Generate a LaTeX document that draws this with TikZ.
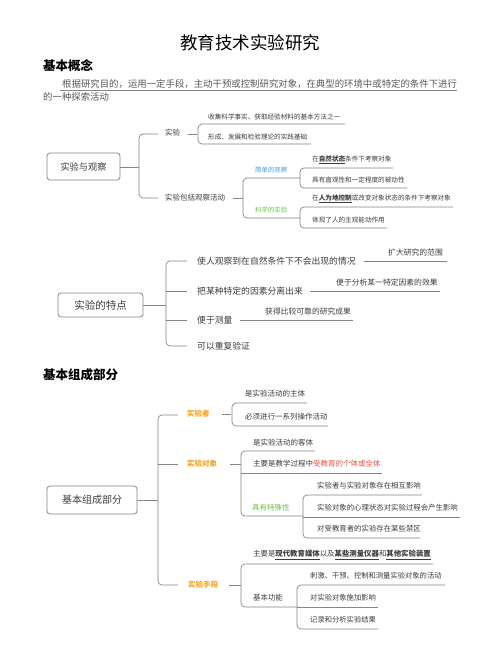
\documentclass[tikz,border=0pt]{standalone}
\usepackage{fontspec}
\setmainfont{Noto Sans CJK SC}
\definecolor{tc}{HTML}{3C3C3C}
\definecolor{lc}{HTML}{858585}
\definecolor{orn}{HTML}{F5A623}
\definecolor{blu}{HTML}{3D9BE9}
\definecolor{grn}{HTML}{6CC04A}
\definecolor{rd}{HTML}{E8503F}
\tikzset{
  txt/.style={anchor=west, inner sep=0pt, text=tc, font=\fontsize{#1}{#1}\selectfont},
  txt/.default=7.5,
  conn/.style={draw=lc, line width=0.7pt, rounded corners=4pt},
  rootbox/.style={draw=lc, line width=0.8pt, rounded corners=3pt, inner sep=0pt, text=tc}
}
\begin{document}
\begin{tikzpicture}[x=1pt,y=-1pt]
\useasboundingbox[fill=white] (0,0) rectangle (500,667);
% title and headings
\node[inner sep=0pt, text=black, font=\fontsize{17.5}{17.5}\selectfont] (title) at (250,43) {教育技术实验研究};
\node[txt=12.5, text=black, font=\fontsize{12.5}{12.5}\selectfont\bfseries] (h1) at (43,66) {基本概念};
\node[txt=9.4, text=tc!85] (p1) at (62,84) {根据研究目的，运用一定手段，主动干预或控制研究对象，在典型的环境中或特定的条件下进行};
\node[txt=9.4, text=tc!85] (p2) at (43,97) {的一种探索活动};
\coordinate (u1) at (60,90);
\draw[lc, line width=0.6pt] (u1) -- (u1 -| p1.east);

% ===== Section 1 =====
\node[rootbox, minimum width=73pt, minimum height=27pt, font=\fontsize{9.2}{9.2}\selectfont] (r1) at (83.5,166.5) {实验与观察};
\coordinate (b1) at (139,167);
\draw[conn] (r1.east |- b1) -- (b1);
\draw[conn] (158,134) -- (139,134) -- (139,198) -- (158,198);
\node[txt] (sy) at (165,133) {实验};
\draw[conn] (188,134) -- (197,134);
\draw[conn] (345,124) -- (198,124) -- (198,144) -- (311,144);
\node[txt=6.6] (sy1) at (208,117) {收集科学事实、获取经验材料的基本方法之一};
\node[txt=6.6] (sy2) at (208,137) {形成、发展和检验理论的实践基础};
\node[txt] (sg) at (165,198) {实验包括观察活动};
\draw[conn] (233,198) -- (243,198);
\draw[conn] (300,178) -- (243,178) -- (243,218) -- (300,218);
\node[txt=6.4, text=blu] (jd) at (255,170) {简单的观察};
\node[txt=6.4, text=grn] (kx) at (255,210) {科学的实验};
\draw[conn] (393,168) -- (300,168) -- (300,188) -- (407,188);
\node[txt=6.6] (jd1) at (312,160) {在\underline{\bfseries 自然状态}条件下考察对象};
\node[txt=6.6] (jd2) at (312,180) {具有直观性和一定程度的被动性};
\draw[conn] (453,207) -- (300,207) -- (300,228) -- (387,228);
\node[txt=6.6] (kx1) at (312,199) {在\underline{\bfseries 人为地控制}或改变对象状态的条件下考察对象};
\node[txt=6.6] (kx2) at (312,220) {体现了人的主观能动作用};

% ===== Section 2 =====
\node[rootbox, minimum width=85pt, minimum height=24pt, font=\fontsize{10.5}{10.5}\selectfont] (r2) at (100.5,305) {实验的特点};
\coordinate (b2) at (166,305);
\draw[conn] (r2.east) -- (b2);
\draw[conn] (187,261) -- (166,261) -- (166,346) -- (187,346);
\draw[conn] (166,291) -- (187,291);
\draw[conn] (166,320) -- (187,320);
\node[txt=8.8] (t1) at (197,261) {使人观察到在自然条件下不会出现的情况};
\node[txt=8.8] (t2) at (197,291) {把某种特定的因素分离出来};
\node[txt=8.8] (t3) at (197,320) {便于测量};
\node[txt=8.8] (t4) at (197,346) {可以重复验证};
\draw[conn] (364,261) -- (447,261);
\node[txt=7.8] (a1) at (388,253) {扩大研究的范围};
\draw[conn] (310,291) -- (440,291);
\node[txt=7.8] (a2) at (336,283) {便于分析某一特定因素的效果};
\draw[conn] (240,320) -- (353,320);
\node[txt=7.8] (a3) at (265,312) {获得比较可靠的研究成果};

% ===== Section 3 =====
\node[txt=12.5, text=black, font=\fontsize{12.5}{12.5}\selectfont\bfseries] (h2) at (43,375) {基本组成部分};
\node[rootbox, minimum width=90pt, minimum height=28pt, font=\fontsize{10}{10}\selectfont] (r3) at (92,500) {基本组成部分};
\coordinate (b3) at (158,500);
\draw[conn] (r3.east) -- (b3);
\draw[conn] (178,415) -- (158,415) -- (158,585) -- (178,585);
\draw[conn] (158,464) -- (178,464);
\node[txt, text=orn, font=\fontsize{7.5}{7.5}\selectfont\bfseries] (zz) at (187,414) {实验者};
\node[txt, text=orn, font=\fontsize{7.5}{7.5}\selectfont\bfseries] (dx) at (187,464) {实验对象};
\node[txt, text=orn, font=\fontsize{7.5}{7.5}\selectfont\bfseries] (sd) at (188,585) {实验手段};
% 实验者
\draw[conn] (222,414) -- (231,414);
\draw[conn] (307,403) -- (232,403) -- (232,426) -- (328,426);
\node[txt] (zz1) at (245,394) {是实验活动的主体};
\node[txt] (zz2) at (245,417) {必须进行一系列操作活动};
% 实验对象
\draw[conn] (230,464) -- (241,464);
\draw[conn] (315,451) -- (241,451) -- (241,516) -- (303,516);
\draw[conn] (241,473) -- (382,473);
\node[txt] (dx1) at (253,443) {是实验活动的客体};
\node[txt] (dx2) at (253,464) {主要是教学过程中\textcolor{rd}{受教育的个体或全体}};
\node[txt, text=grn] (dx3) at (252,508) {具有特殊性};
\draw[conn] (422,495) -- (303,495) -- (303,538) -- (420,538);
\draw[conn] (303,517) -- (460,517);
\node[txt=7.4] (ts1) at (317,486) {实验者与实验对象存在相互影响};
\node[txt=7.4] (ts2) at (317,508) {实验对象的心理状态对实验过程会产生影响};
\node[txt=7.4] (ts3) at (317,529) {对受教育者的实验存在某些禁区};
% 实验手段
\draw[conn] (229,585) -- (241,585);
\draw[conn] (433,564) -- (241,564) -- (241,607) -- (297,607);
\node[txt=7.4] (sd1) at (253,555) {主要是\underline{\bfseries 现代教育媒体}以及\underline{\bfseries 某些测量仪器}和\underline{\bfseries 其他实验装置}};
\node[txt=7.4] (sd2) at (253,598) {基本功能};
\draw[conn] (445,585) -- (297,585) -- (297,629) -- (378,629);
\draw[conn] (297,607) -- (378,607);
\node[txt=7.3] (gn1) at (310,576) {刺激、干预、控制和测量实验对象的活动};
\node[txt=7.3] (gn2) at (310,598) {对实验对象施加影响};
\node[txt=7.3] (gn3) at (310,620) {记录和分析实验结果};
\end{tikzpicture}
\end{document}
